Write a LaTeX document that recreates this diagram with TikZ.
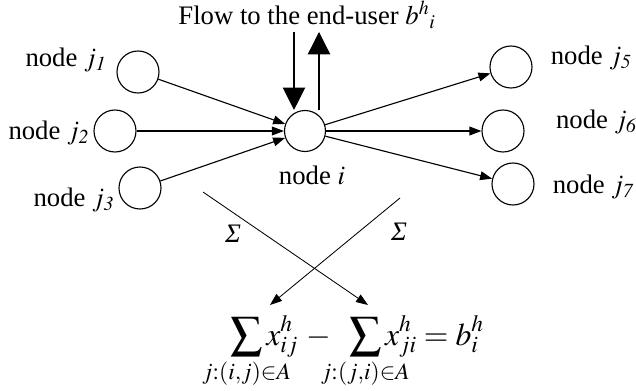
\documentclass[tikz,border=0pt]{standalone}
\usepackage{mathptmx}
\usepackage{mathtools}
\usepackage[no-math]{fontspec}
\setmainfont{Liberation Serif}
\usetikzlibrary{arrows.meta, positioning}

\begin{document}
\begin{tikzpicture}[
    >={Triangle[length=0.3cm, width=0.22cm]},
    vertex/.style={draw, circle, line width=0.8pt, minimum size=1.05cm,
                   inner sep=0pt},
    lbl/.style={font=\fontsize{19}{22}\selectfont, inner sep=0pt},
    link/.style={->, line width=0.8pt},
    usertip/.style={-{Triangle[length=0.56cm, width=0.56cm]}, line width=0.9pt}
  ]
  \useasboundingbox (0,0) rectangle (15.9,9.75);

  % network
  \node[vertex, minimum size=1.025cm] (i) at (7.625,6.475) {};
  \node[vertex] (j1) at (3.45,7.95) {};
  \node[vertex] (j2) at (2.875,6.475) {};
  \node[vertex] (j3) at (3.5,5.05) {};
  \node[vertex] (j5) at (12.775,8.075) {};
  \node[vertex] (j6) at (12.575,6.475) {};
  \node[vertex] (j7) at (12.825,5.15) {};

  \node[lbl, left=0.25cm of j1, yshift=0.3cm] (lj1) {node $j_{\mathit{1}}$};
  \node[lbl, left=0.1cm of j2, yshift=-0.05cm] (lj2) {node $j_{\mathit{2}}$};
  \node[lbl, left=0.1cm of j3, yshift=-0.3cm] (lj3) {node $j_{\mathit{3}}$};
  \node[lbl, right=0.45cm of j5, yshift=0.225cm] (lj5) {node $j_{\mathit{5}}$};
  \node[lbl, right=0.78cm of j6, yshift=0.225cm] (lj6) {node $j_{\mathit{6}}$};
  \node[lbl, right=0.45cm of j7, yshift=-0.075cm] (lj7) {node $j_{\mathit{7}}$};
  \node[lbl, below=0.33cm of i, xshift=0.175cm] (li) {node $i$};

  \draw[link] (j1) -- (i);
  \draw[link] (j2) -- (i);
  \draw[link] (j3) -- (i);
  \draw[link] (i) -- (j5);
  \draw[link] (i) -- (j6);
  \draw[link] (i) -- (j7);

  % end-user flow
  \node[lbl] (user) at (7.675,9.375) {Flow to the end-user $b^{h}{}_{i}$};
  \coordinate (down) at (7.35,8.95);
  \coordinate (up) at (7.975,8.95);
  \draw[usertip] (down) -- (down |- i.north);
  \draw[usertip] (up |- i.north) -- ++(0,0.1) -- (up);

  % balance equation
  \node[lbl, font=\fontsize{22.5}{26}\selectfont, anchor=base west] (eq) at (5.75,1.125)
    {$\displaystyle\sum_{\mathclap{j:(i,j)\in A}} x_{ij}^{h} \,-\; \;\sum_{\mathclap{j:(j,i)\in A}} x_{ji}^{h} = b_{i}^{h}$};
  \coordinate (instart) at (5.075,4.95);
  \coordinate (outstart) at (10.0,4.8);
  \coordinate (insum) at (9.2,2.125);
  \coordinate (outsum) at (6.75,2.125);
  \draw[link, line width=0.6pt] (instart) -- (insum);
  \draw[link, line width=0.6pt] (outstart) -- (outsum);
  \node[lbl] (sigin) at (5.825,3.9) {\textit{Σ}};
  \node[lbl] (sigout) at (9.975,3.95) {\textit{Σ}};
\end{tikzpicture}
\end{document}
